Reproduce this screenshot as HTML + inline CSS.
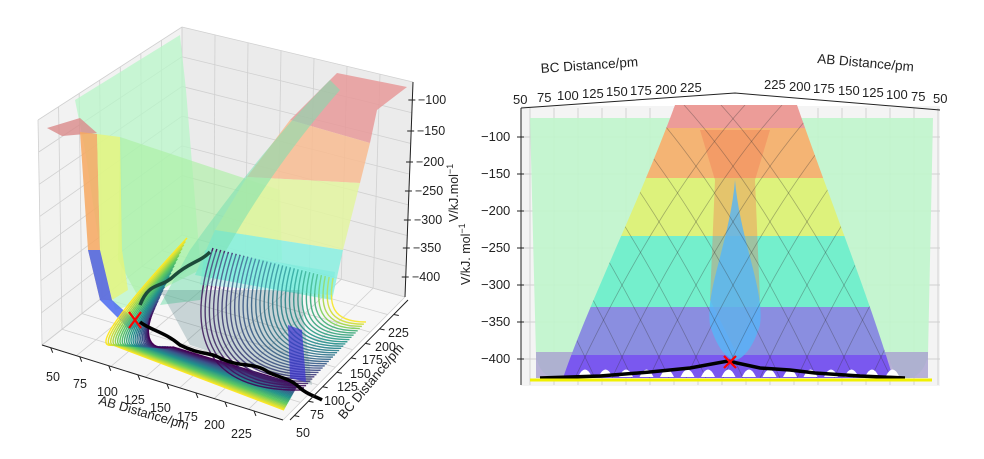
<!DOCTYPE html>
<html><head><meta charset="utf-8"><style>
body{margin:0;background:#fff;}
svg{display:block;font-family:"Liberation Sans","DejaVu Sans",sans-serif;}
</style></head><body>
<svg id="s" width="984" height="459" viewBox="0 0 984 459" xmlns="http://www.w3.org/2000/svg">
<rect width="984" height="459" fill="#fff"/>
<polygon points="38,120 182,27 182,235 42,345" fill="#f2f2f2"/>
<polygon points="182,27 413,82 405,297 182,235" fill="#ebebeb"/>
<polygon points="42,345 182,235 405,297 283,420" fill="#f6f6f6"/>
<g id="lgrid" stroke="#d0d0d0" stroke-width="0.8" fill="none"></g>
<polygon points="75,100 180,35 186,90 195,200 200,260 150,300 115,310 100,250 85,150" fill="#b8f5c8" fill-opacity="0.75"/>
<polygon points="120,137 280,190 282,260 200,270 140,300 118,260" fill="#a8f0a0" fill-opacity="0.6"/>
<polygon points="47,128 80,118 97,133 62,136" fill="#d98a8a" fill-opacity="0.8"/>
<path d="M80,132 L97,134 L100,250 L112,300 L100,300 L88,250 Z" fill="#f7a860" fill-opacity="0.85"/>
<path d="M97,134 L120,137 L122,250 L128,290 L112,300 L100,250 Z" fill="#e6f57a" fill-opacity="0.8"/>
<path d="M88,250 L100,250 L112,300 L140,325 L130,330 L100,300 Z" fill="#4a6af0" fill-opacity="0.85"/>
<polygon points="337,73 407,87 377,110 370,143 290,120" fill="#e89a9a" fill-opacity="0.85"/>
<polygon points="290,120 370,143 360,183 247,177" fill="#f8bc92" fill-opacity="0.85"/>
<polygon points="247,177 360,183 343,250 215,230" fill="#e3f5a0" fill-opacity="0.85"/>
<polygon points="215,230 343,250 332,300 195,275" fill="#8af0e0" fill-opacity="0.85"/>
<path d="M330,80 C290,120 240,180 190,250 L160,305 L200,300 C230,240 270,170 340,90 Z" fill="#7ae0b0" fill-opacity="0.55"/>
<g id="lcont" fill="none" stroke-width="1.4"></g>
<polygon points="160,290 300,290 312,385 190,345" fill="#406e78" fill-opacity="0.25"/>
<polygon points="205,250 335,272 332,295 200,285" fill="#60e8d8" fill-opacity="0.3"/>
<path d="M288,325 L302,330 L306,382 L290,378 Z" fill="#3a30d0" fill-opacity="0.7"/>
<path d="M140,305 C150,280 160,290 175,275 C190,262 200,262 210,252" stroke="#1d4a3a" stroke-width="3.5" fill="none"/>
<path d="M140,322 C150,330 165,332 180,345 C200,355 210,352 220,358 C240,368 255,362 268,372 C280,378 290,378 300,388 C308,395 315,396 322,400" stroke="#000" stroke-width="3.5" fill="none"/>
<path d="M129,312 L141,328 M141,312 L129,328" stroke="#f00" stroke-width="2.2"/>
<line x1="413" y1="82" x2="405" y2="297" stroke="#222" stroke-width="1"/>
<line x1="42" y1="345" x2="283" y2="420" stroke="#222" stroke-width="1"/>
<line x1="290" y1="420" x2="408" y2="300" stroke="#222" stroke-width="1"/>
<g id="lticks" stroke="#222" stroke-width="1"></g>
<g font-size="12.5" fill="#222">
<text x="418" y="104">−100</text><text x="417" y="135">−150</text><text x="416" y="166">−200</text><text x="415" y="195">−250</text><text x="414" y="224">−300</text><text x="413" y="252">−350</text><text x="412" y="281">−400</text>
<text x="46" y="381">50</text><text x="73" y="388">75</text><text x="97" y="396">100</text><text x="124" y="404">125</text><text x="150" y="412">150</text><text x="177" y="421">175</text><text x="204" y="429">200</text><text x="231" y="438">225</text>
<text x="296" y="437">50</text><text x="310" y="419">75</text><text x="324" y="405">100</text><text x="337" y="391">125</text><text x="350" y="378">150</text><text x="362" y="364">175</text><text x="375" y="351">200</text><text x="388" y="337">225</text>
<text transform="translate(98,404) rotate(16)" font-size="13">AB Distance/pm</text>
<text transform="translate(344,420) rotate(-50)" font-size="13">BC Distance/pm</text>
<text transform="translate(458,222) rotate(-90)" font-size="12.5">V/kJ.mol<tspan dy="-5" font-size="9">−1</tspan></text>
</g>
<rect x="521" y="106" width="419" height="280" fill="#f4f4f4"/>
<g id="rgrid" stroke="#cfcfcf" stroke-width="0.9"></g>
<path d="M530,118 L933,118 L928,355 C922,385 895,385 890,360 L575,360 C570,385 540,385 536,355 Z" fill="#c0f5cc" fill-opacity="0.9"/>
<rect x="536" y="352" width="392" height="26" fill="#a8a0d0" fill-opacity="0.8"/>
<clipPath id="mc"><path d="M675,105 L797,105 C830,200 870,300 893,378 L563,378 C590,300 640,200 675,105 Z"/></clipPath>
<g clip-path="url(#mc)">
<rect x="540" y="100" width="380" height="28" fill="#ec9c98"/>
<rect x="540" y="128" width="380" height="50" fill="#f4b474"/>
<rect x="540" y="178" width="380" height="58" fill="#ddf27c"/>
<rect x="540" y="236" width="380" height="71" fill="#74efcc"/>
<rect x="540" y="307" width="380" height="48" fill="#8a8ee0"/>
<rect x="540" y="355" width="380" height="25" fill="#7a58ef"/>
<path d="M700,130 L770,130 L755,180 L760,300 L735,350 L710,300 L715,180 Z" fill="#f07050" fill-opacity="0.35"/>
<path d="M735,180 C730,240 705,290 710,325 C718,352 730,360 735,360 C740,360 752,352 760,325 C765,290 740,240 735,180 Z" fill="#55b5f8" fill-opacity="0.8"/>
<g id="rmesh" stroke="#333" stroke-opacity="0.35" stroke-width="0.8" fill="none"></g>
</g>
<g id="scal" fill="#fff"></g>
<path d="M540,378 L600,376 L650,372 L690,368 L728,361 L760,368 L790,370 L815,373 L860,376 L905,378" stroke="#000" stroke-width="3.5" fill="none"/>
<line x1="530" y1="380" x2="932" y2="380" stroke="#f0f000" stroke-width="3"/>
<path d="M724,356 L736,368 M736,356 L724,368" stroke="#f00" stroke-width="2.2"/>
<line x1="521" y1="108" x2="521" y2="385" stroke="#222"/>
<polyline points="521,108 735,93 940,110" stroke="#222" fill="none"/>
<g id="rticks" stroke="#222"></g>
<g font-size="13" fill="#222">
<text x="481" y="141">−100</text><text x="481" y="178">−150</text><text x="481" y="215">−200</text><text x="481" y="252">−250</text><text x="481" y="289">−300</text><text x="481" y="326">−350</text><text x="481" y="363">−400</text>
<text x="513" y="104">50</text><text x="537" y="102">75</text><text x="557" y="100">100</text><text x="582" y="98">125</text><text x="606" y="96">150</text><text x="630" y="95">175</text><text x="655" y="94">200</text><text x="680" y="92">225</text>
<text x="764" y="89">225</text><text x="789" y="91">200</text><text x="813" y="93">175</text><text x="838" y="95">150</text><text x="862" y="97">125</text><text x="886" y="99">100</text><text x="911" y="101">75</text><text x="933" y="103">50</text>
<text transform="translate(541,73) rotate(-4)" font-size="13.5">BC Distance/pm</text>
<text transform="translate(817,63) rotate(5)" font-size="13.5">AB Distance/pm</text>
<text transform="translate(470,285) rotate(-90)" font-size="12.5">V/kJ. mol<tspan dy="-5" font-size="9">−1</tspan></text>
</g>
</svg>
<script>
var NS="http://www.w3.org/2000/svg";
function el(p,t,a){var e=document.createElementNS(NS,t);for(var k in a)e.setAttribute(k,a[k]);document.getElementById(p).appendChild(e);return e;}
function lerp(a,b,t){return a+(b-a)*t;}
function vir(t){var c=[[68,1,84],[59,82,139],[33,145,140],[94,201,98],[253,231,37]];var x=t*4,i=Math.min(3,Math.floor(x)),f=x-i;var a=c[i],b=c[i+1];return "rgb("+Math.round(lerp(a[0],b[0],f))+","+Math.round(lerp(a[1],b[1],f))+","+Math.round(lerp(a[2],b[2],f))+")";}
for(var i=0;i<8;i++){var t=i/7;
 el("lgrid","line",{x1:lerp(42,182,t),y1:lerp(345,235,t),x2:lerp(38,182,t),y2:lerp(120,27,t)});
 el("lgrid","line",{x1:lerp(182,405,t),y1:lerp(235,297,t),x2:lerp(182,413,t),y2:lerp(27,82,t)});
 el("lgrid","line",{x1:lerp(42,38,t),y1:lerp(345,120,t),x2:182,y2:lerp(235,27,t)});
 el("lgrid","line",{x1:182,y1:lerp(235,27,t),x2:lerp(405,413,t),y2:lerp(297,82,t)});
 el("lgrid","line",{x1:lerp(42,182,t),y1:lerp(345,235,t),x2:lerp(283,405,t),y2:lerp(420,297,t)});
 el("lgrid","line",{x1:lerp(42,283,t),y1:lerp(345,420,t),x2:lerp(182,405,t),y2:lerp(235,297,t)});}
[100,131,162,191,220,248,277].forEach(function(y){var x=413-(y-82)*8/215;el("lticks","line",{x1:x-4,y1:y,x2:x+3,y2:y});});
for(var i=0;i<8;i++){var t=(i+0.3)/8.3;var x=lerp(42,283,t),y=lerp(345,420,t);el("lticks","line",{x1:x,y1:y,x2:x+2,y2:y+5});
 var x2=lerp(290,408,t),y2=lerp(420,300,t);el("lticks","line",{x1:x2,y1:y2,x2:x2+5,y2:y2+1});}
var N=24;
for(var i=0;i<N;i++){var t=i/(N-1);
 var cx=lerp(88,148,t),cy=lerp(333,335,t),ex=lerp(284,298,t),ey=lerp(410,385,t),sx=lerp(187,150,t),sy=lerp(238,318,t);
 el("lcont","path",{d:"M"+sx+","+sy+" Q"+(cx-6)+","+(cy+18)+" "+(cx+25)+","+(cy+12)+" L"+ex+","+ey,stroke:vir(1-t)});}
var M=32;
for(var j=0;j<M;j++){var t=j/(M-1);
 var Sx=lerp(213,333,t),Sy=lerp(248,278,t);
 var Ex=lerp(302,366,t),Ey=lerp(390,322,t);
 var C1x=Sx-lerp(25,4,t),C1y=Sy+lerp(75,25,t);
 var C2x=lerp(195,330,t),C2y=Ey+lerp(2,0,t);
 var col=t>0.88?vir(0.75+(t-0.88)*2):vir(0.02+0.7*t);
 el("lcont","path",{d:"M"+Sx+","+Sy+" C"+C1x+","+C1y+" "+C2x+","+C2y+" "+Ex+","+Ey,stroke:col,"stroke-opacity":0.9});}
[137,174,211,248,285,322,359].forEach(function(y){el("rgrid","line",{x1:521,y1:y,x2:940,y2:y});el("rticks","line",{x1:517,y1:y,x2:524,y2:y});});
for(var i=0;i<18;i++){var x=530+i*24;el("rgrid","line",{x1:x,y1:108,x2:x,y2:385});}
for(var i=0;i<9;i++){var a=575+i*37;
 el("rmesh","path",{d:"M"+a+",378 C"+(a+60)+",250 "+(a+120)+",160 "+(a+170)+",105"});
 el("rmesh","path",{d:"M"+(a+20)+",378 C"+(a-40)+",250 "+(a-100)+",160 "+(a-150)+",105"});}
for(var i=0;i<16;i++){var x=585+i*20.5;el("scal","path",{d:"M"+(x-7)+",377 Q"+x+",362 "+(x+7)+",377 Z"});}
</script>
</body></html>
